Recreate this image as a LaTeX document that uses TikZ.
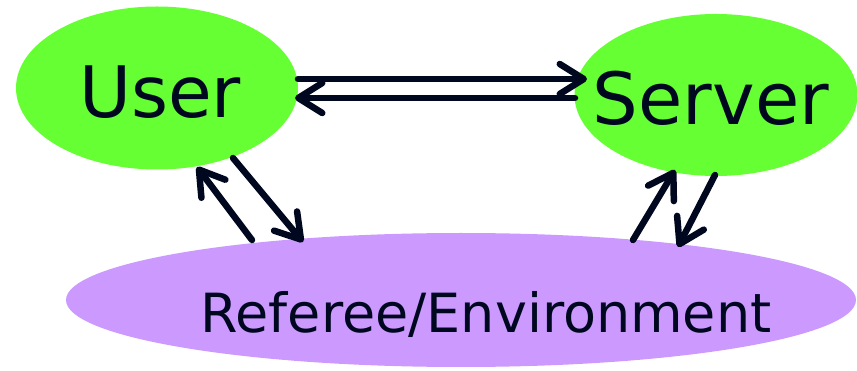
\documentclass[tikz,border=0pt]{standalone}
\usepackage{fontspec}
\setmainfont{DejaVu Sans}
\usetikzlibrary{shapes.geometric,arrows.meta,calc}
\definecolor{ink}{HTML}{000820}
\definecolor{grn}{HTML}{66FF33}
\definecolor{purp}{HTML}{CC99FF}
\begin{document}
\begin{tikzpicture}[x=1pt,y=-1pt,
 blob/.style={ellipse, inner sep=0pt, draw=none},
 lbl/.style={inner sep=0pt, anchor=base, text=ink},
 flow/.style={draw=ink, line width=6.5pt, line cap=round, line join=round, -{Straight Barb[length=24pt,width=30pt,round]}}]
\useasboundingbox (0,0) rectangle (857,371);
\node[blob, fill=grn, minimum width=282pt, minimum height=163pt] (user) at (157,88) {};
\node[blob, fill=grn, minimum width=283pt, minimum height=162pt] (server) at (716,95) {};
\node[blob, fill=purp, minimum width=790pt, minimum height=134pt] (ref) at (461,300) {};
% labels
\node[lbl] (userlbl) at (160,118) {\fontsize{71}{71}\selectfont User};
\node[lbl] (serverlbl) at (711,125) {\fontsize{72}{72}\selectfont Server};
\node[lbl] (reflbl) at (486,333) {\fontsize{54}{54}\selectfont Referee/Environment};
% connectors
\draw[flow] ($(user.center)+(141,-9)$) -- ($(server.center)+(-129,-16)$);
\draw[flow] ($(server.center)+(-141,3)$) -- ($(user.center)+(138,10)$);
\draw[flow] ($(ref.center)+(-209,-60)$) -- ($(user.center)+(40,79)$);
\draw[flow] ($(user.center)+(76,70)$) -- ($(ref.center)+(-158,-58)$);
\draw[flow] ($(ref.center)+(172,-60)$) -- ($(server.center)+(-41,75)$);
\draw[flow] ($(server.center)+(-1,80)$) -- ($(ref.center)+(217,-53)$);
\end{tikzpicture}
\end{document}
